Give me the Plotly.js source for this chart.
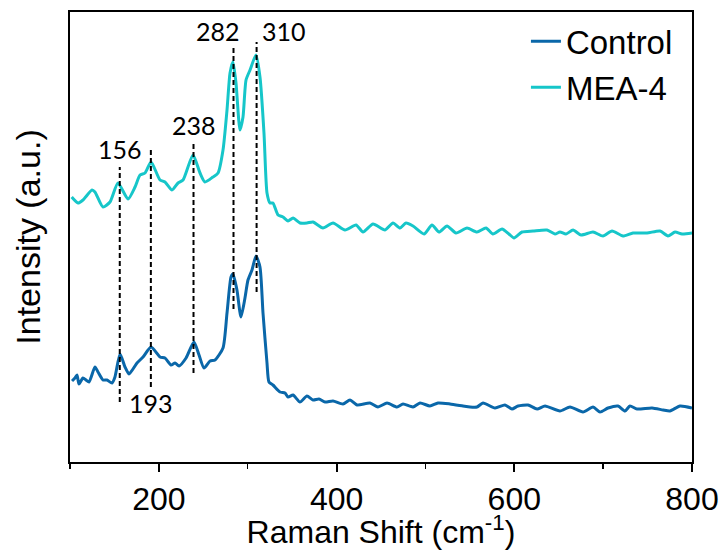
<!DOCTYPE html>
<html>
<head>
<meta charset="utf-8">
<script src="https://cdn.plot.ly/plotly-3.0.1.min.js"></script>
<style>html,body{margin:0;padding:0;background:#fff;}#chart{width:723px;height:550px;}</style>
</head>
<body>
<div id="chart"></div>
<script>
// Raman shift (cm-1) and intensity (a.u., offset)
const controlShift = [102.3,105.6,107.9,110.1,114.6,118.0,121.4,128.1,131.5,137.1,141.6,147.3,150.6,156.3,161.9,166.4,175.4,182.2,191.2,201.3,206.9,213.7,218.2,222.7,230.6,239.5,245.2,250.8,257.6,263.2,272.2,276.7,281.2,283.4,287.9,292.4,296.9,300.3,304.8,309.3,313.8,317.2,321.7,323.9,328.4,336.3,342.0,345.4,351.0,358.8,366.7,373.5,380.2,387.0,396.0,407.2,415.1,423.0,437.6,446.6,456.8,468.0,474.8,486.0,493.9,505.1,514.1,527.7,542.3,550.2,558.0,564.8,578.3,589.5,597.4,604.2,615.4,625.6,634.6,651.4,662.7,677.3,688.6,696.5,705.5,716.7,724.6,730.2,738.1,755.0,767.4,775.2,786.5,800];
const controlInt = [81,84,87,78,84,82,80,95,90,82,82,79,85,108,95,88,99,105,115,105,104,97,99,96,104,120,107,94,101,102,114,149,185,188,172,145,164,182,192,206,195,149,99,80,77,70,69,65,67,60,66,62,63,60,61,58,62,57,59,55,59,55,58,55,59,56,59,58,56,55,55,59,54,57,53,56,57,53,56,51,55,50,55,50,54,56,51,56,53,54,52,51,56,54];

const meaShift = [101.9,109.0,114.6,124.8,128.1,137.1,145.0,154.0,165.3,173.2,178.8,184.4,191.2,201.3,206.9,214.8,221.6,227.2,238.4,246.3,251.9,260.9,266.6,272.2,276.7,280.1,283.4,286.8,291.3,294.7,298.1,302.6,309.3,313.8,318.3,321.7,325.1,328.4,334.1,339.7,345.4,351.0,358.9,366.7,373.5,384.7,396.0,409.5,421.9,429.8,441.0,454.5,463.5,471.4,478.1,486.0,498.4,507.4,515.3,524.3,534.4,546.8,558.0,568.2,576.0,586.2,594.0,599.7,608.7,621.1,636.8,645.8,651.4,658.2,666.1,675.1,688.6,699.8,710.0,722.3,733.6,749.4,764.0,773.0,780.9,788.8,800];
const meaInt = [265,259,262,272,270,255,260,279,263,275,287,289,300,282,280,272,279,282,307,289,280,285,289,312,352,389,400,379,332,345,382,392,407,385,329,269,259,259,247,245,241,244,239,239,240,234,239,232,237,230,238,232,239,234,239,236,228,237,230,236,229,234,230,234,228,233,228,224,230,231,232,228,230,228,232,227,230,226,231,226,229,229,231,226,230,228,229];

// Peak markers (dashed guide lines, positions as drawn) and their labels
const peakX      = [156, 191, 239, 284, 310];
const peakTop    = [295, 315, 319, 415, 420];
const peakBottom = [60, 75, 89, 153, 170];
const peakLabels = ["156", "193", "238", "282", "310"];
const labelX     = [156.3, 191.5, 240, 267, 341];
const labelY     = [313, 59, 337, 431, 431];

const xTickVals = [200, 400, 600, 800];
const xTickText = ["200", "400", "600", "800"];

const dashX = [], dashY = [];
peakX.forEach((p, i) => { dashX.push(p, p, null); dashY.push(peakBottom[i], peakTop[i], null); });

const traces = [
  {x: controlShift, y: controlInt, name: "Control", type: "scatter", mode: "lines",
   line: {color: "#0a67a9", width: 3, shape: "spline", smoothing: 0.6}},
  {x: meaShift, y: meaInt, name: "MEA-4", type: "scatter", mode: "lines",
   line: {color: "#16c6c9", width: 3, shape: "spline", smoothing: 0.6}},
  {x: dashX, y: dashY, type: "scatter", mode: "lines", showlegend: false, hoverinfo: "skip",
   line: {color: "#000", width: 2, dash: "5px,3px"}}
];

const annotations = peakLabels.map((t, i) => ({
  x: labelX[i], y: labelY[i], xref: "x", yref: "y", text: t, showarrow: false,
  font: {family: "Lato, 'Open Sans', sans-serif", size: 25, color: "#000"}
}));

const layout = {
  width: 723, height: 550,
  margin: {l: 70, r: 31, t: 12, b: 88},
  paper_bgcolor: "#fff", plot_bgcolor: "#fff",
  font: {family: "'Liberation Sans', Arial, sans-serif", color: "#000"},
  showlegend: true,
  legend: {x: 0.733, y: 0.997, xanchor: "left", yanchor: "top", bgcolor: "rgba(0,0,0,0)",
           font: {size: 33, family: "'Liberation Sans', Arial, sans-serif"}, tracegroupgap: 0},
  xaxis: {
    range: [100, 800], showline: true, linecolor: "#000", linewidth: 2, mirror: true,
    tickmode: "array", tickvals: xTickVals, ticktext: xTickText,
    ticks: "outside", ticklen: 8, tickwidth: 2, tickcolor: "#000",
    minor: {dtick: 100, tick0: 0, ticks: "outside", ticklen: 5, tickwidth: 1.5, tickcolor: "#000"},
    showgrid: false, zeroline: false,
    tickfont: {size: 32, family: "'Liberation Sans', Arial, sans-serif"},
    title: {text: "Raman Shift (cm<sup>-1</sup>)", font: {size: 32}, standoff: 8}
  },
  yaxis: {
    range: [0, 450], showline: true, linecolor: "#000", linewidth: 2, mirror: true,
    showticklabels: false, ticks: "", showgrid: false, zeroline: false,
    title: {text: "Intensity (a.u.)", font: {size: 34}, standoff: 17}
  },
  annotations: annotations
};

Plotly.newPlot("chart", traces, layout, {displayModeBar: false, staticPlot: true});
</script>
</body>
</html>
